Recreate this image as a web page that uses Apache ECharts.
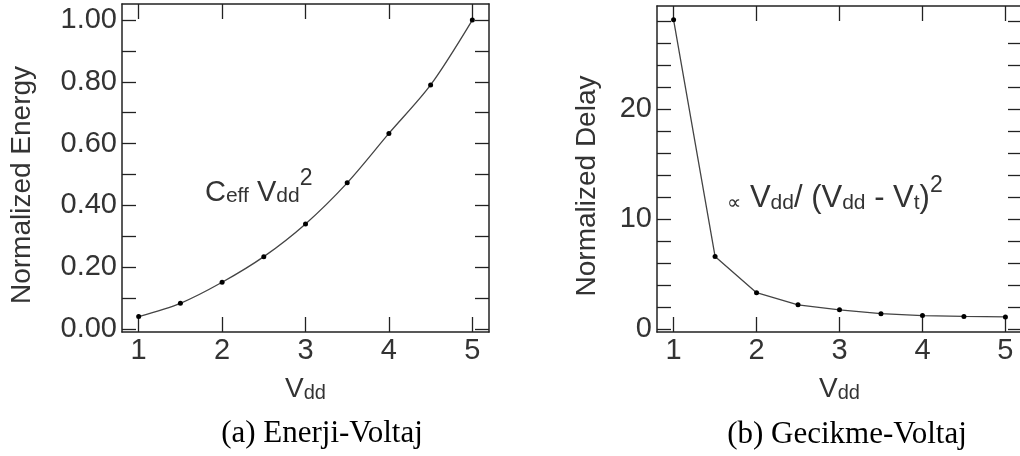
<!DOCTYPE html>
<html>
<head>
<meta charset="utf-8">
<script src="https://cdn.jsdelivr.net/npm/echarts@6/dist/echarts.min.js"></script>
<style>
  body { margin: 0; background: #fff; }
  #chart { width: 1020px; height: 456px; }
</style>
</head>
<body>
<div id="chart"></div>
<script>
  var vdd = [1, 1.5, 2, 2.5, 3, 3.5, 4, 4.5, 5]
  var energy = [0.04, 0.083, 0.151, 0.234, 0.34, 0.473, 0.633, 0.79, 1.0]
  var delay = [28.1, 6.6, 3.3, 2.2, 1.75, 1.4, 1.22, 1.15, 1.1]

  var xTicks = [1, 2, 3, 4, 5]
  var energyTicks = [0, 0.1, 0.2, 0.3, 0.4, 0.5, 0.6, 0.7, 0.8, 0.9, 1.0]
  var energyLabels = [0, 0.2, 0.4, 0.6, 0.8, 1.0]
  var delayTicks = [0, 2, 4, 6, 8, 10, 12, 14, 16, 18, 20, 22, 24, 26, 28]
  var delayLabels = [0, 10, 20]

  var sans = 'Liberation Sans, Arial, sans-serif'
  var axisColor = '#222'
  var labelColor = '#333'

  var vddName = {
    rich: {
      v: { fontSize: 28, lineHeight: 36, verticalAlign: 'bottom', fontFamily: sans, color: labelColor },
      s: { fontSize: 20, lineHeight: 26, verticalAlign: 'bottom', fontFamily: sans, color: labelColor }
    }
  }

  function xAxes (grid, top) {
    return {
      type: 'value',
      gridIndex: grid,
      position: top ? 'top' : 'bottom',
      min: 0.8,
      max: 5.2,
      name: top ? '' : '{v|V}{s|dd}',
      nameLocation: 'middle',
      nameGap: 35,
      nameTextStyle: vddName,
      splitLine: { show: false },
      axisLine: { show: true, onZero: false, lineStyle: { color: axisColor, width: 1.5 } },
      axisTick: { show: true, inside: true, length: 15, customValues: xTicks, lineStyle: { color: axisColor, width: 1.3 } },
      axisLabel: {
        show: true,
        customValues: xTicks,
        margin: 4,
        fontSize: 29,
        fontFamily: sans,
        color: labelColor,
        formatter: function (v) { return top ? '' : String(v) }
      }
    }
  }

  function yAxes (grid, right, opts) {
    return {
      type: 'value',
      gridIndex: grid,
      position: right ? 'right' : 'left',
      min: opts.min,
      max: opts.max,
      name: right ? '' : opts.name,
      nameLocation: 'middle',
      nameGap: opts.gap,
      nameTextStyle: { fontSize: 28, fontFamily: sans, color: labelColor, padding: [0, 34, 0, 0] },
      splitLine: { show: false },
      axisLine: { show: true, onZero: false, lineStyle: { color: axisColor, width: 1.5 } },
      axisTick: { show: true, inside: true, length: 14, customValues: opts.ticks, lineStyle: { color: axisColor, width: 1.3 } },
      axisLabel: {
        show: true,
        customValues: opts.labels,
        margin: 5,
        fontSize: 29,
        fontFamily: sans,
        color: labelColor,
        formatter: function (v) { return right ? '' : opts.fmt(v) }
      }
    }
  }

  var energyOpts = {
    min: -0.01, max: 1.052, ticks: energyTicks, labels: energyLabels, name: 'Normalized Energy', gap: 86,
    fmt: function (v) { return v.toFixed(2) }
  }
  var delayOpts = {
    min: -0.27, max: 29.36, ticks: delayTicks, labels: delayLabels, name: 'Normalized Delay', gap: 56,
    fmt: function (v) { return String(Math.round(v)) }
  }

  function pairs (ys) {
    return vdd.map(function (x, i) { return [x, ys[i]] })
  }

  var annoRich = function (main, sub) {
    return {
      m: { fontSize: main, fontWeight: 'normal', lineHeight: 40, verticalAlign: 'bottom', fontFamily: sans, color: labelColor },
      s: { fontSize: sub, fontWeight: 'normal', lineHeight: 28, verticalAlign: 'bottom', fontFamily: sans, color: labelColor },
      p: { fontSize: 23, fontWeight: 'normal', lineHeight: 22, verticalAlign: 'top', fontFamily: sans, color: labelColor },
      q: { fontSize: 20, fontWeight: 'normal', lineHeight: 40, verticalAlign: 'bottom', fontFamily: 'DejaVu Sans, sans-serif', color: labelColor }
    }
  }

  var chart = echarts.init(document.getElementById('chart'), null, { renderer: 'canvas' })
  var option = {
    animation: false,
    backgroundColor: '#fff',
    grid: [
      { left: 122, top: 4, width: 367, height: 328, outerBoundsMode: 'none' },
      { left: 657, top: 6, width: 365, height: 326, outerBoundsMode: 'none' }
    ],
    xAxis: [xAxes(0, false), xAxes(0, true), xAxes(1, false), xAxes(1, true)],
    yAxis: [yAxes(0, false, energyOpts), yAxes(0, true, energyOpts), yAxes(1, false, delayOpts), yAxes(1, true, delayOpts)],
    series: [
      {
        type: 'line',
        xAxisIndex: 0,
        yAxisIndex: 0,
        smooth: 0.3,
        data: pairs(energy),
        symbol: 'circle',
        symbolSize: 5,
        itemStyle: { color: '#000' },
        lineStyle: { color: '#444', width: 1.3 }
      },
      {
        type: 'line',
        xAxisIndex: 2,
        yAxisIndex: 2,
        data: pairs(delay),
        symbol: 'circle',
        symbolSize: 5,
        itemStyle: { color: '#000' },
        lineStyle: { color: '#444', width: 1.3 }
      }
    ],
    title: [
      {
        left: 205,
        top: 167,
        padding: 0,
        text: '{m|C}{s|eff}{m| V}{s|dd}{p|2}',
        textStyle: { fontWeight: 'normal', rich: annoRich(29, 21) }
      },
      {
        left: 727,
        top: 174,
        padding: 0,
        text: '{q|∝}{m| V}{s|dd}{m|/ (V}{s|dd}{m| - V}{s|t}{m|)}{p|2}',
        textStyle: { fontWeight: 'normal', rich: annoRich(31, 21) }
      }
    ],
    graphic: [
      {
        type: 'text',
        x: 322,
        y: 434,
        style: { text: '(a) Enerji-Voltaj', font: '31px "Liberation Serif", "Times New Roman", serif', fill: '#000', textAlign: 'center', textVerticalAlign: 'middle' }
      },
      {
        type: 'text',
        x: 847,
        y: 435,
        style: { text: '(b) Gecikme-Voltaj', font: '31px "Liberation Serif", "Times New Roman", serif', fill: '#000', textAlign: 'center', textVerticalAlign: 'middle' }
      }
    ]
  }
  chart.setOption(option)
</script>
</body>
</html>
